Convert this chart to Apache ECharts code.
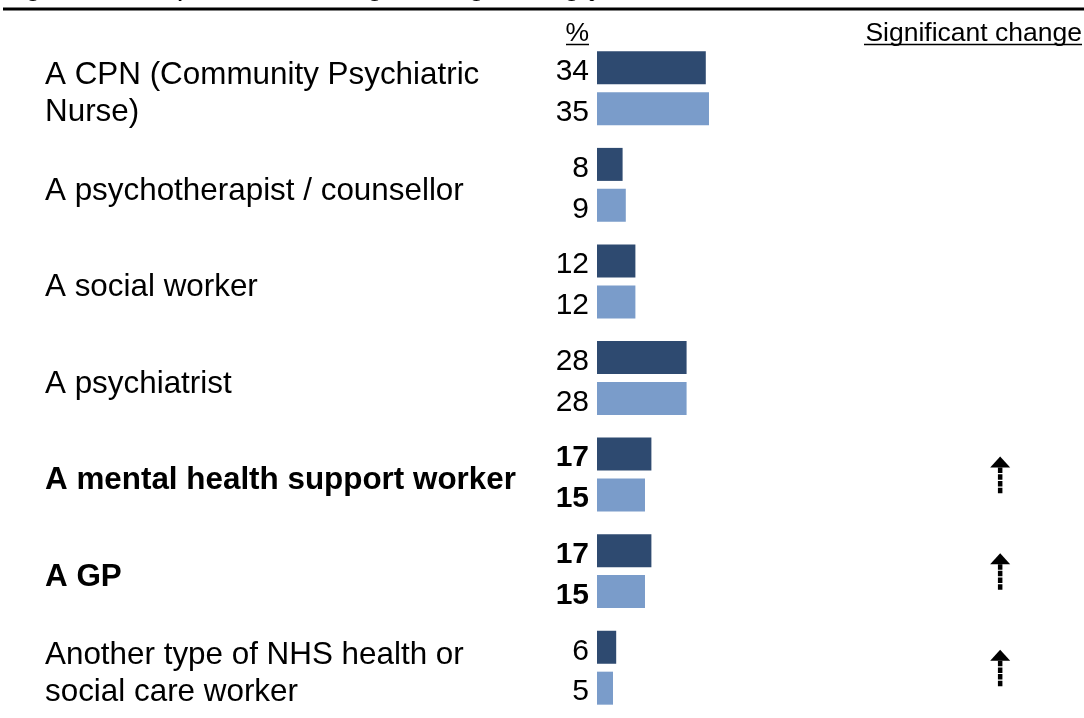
<!DOCTYPE html>
<html>
<head>
<meta charset="utf-8">
<script src="https://cdn.jsdelivr.net/npm/echarts@6.0.0/dist/echarts.min.js"></script>
<style>
  html, body { margin: 0; padding: 0; background: #fff; }
  #main { width: 1084px; height: 718px; }
</style>
</head>
<body>
<div id="main"></div>
<script>
// categories, top to bottom
var categories = [
  'A CPN (Community Psychiatric\nNurse)',
  'A psychotherapist / counsellor',
  'A social worker',
  'A psychiatrist',
  'A mental health support worker',
  'A GP',
  'Another type of NHS health or\nsocial care worker'
];
var latest = [34, 8, 12, 28, 17, 17, 6];
var previous = [35, 9, 12, 28, 15, 15, 5];
var sigChange = ['', '', '', '', 'up', 'up', 'up'];
var boldRows = [false, false, false, false, true, true, false];

var FONT = 'Liberation Sans, Arial, sans-serif';
var ARROW_AT = 126; // x position of the arrows, in axis units

var chart = echarts.init(document.getElementById('main'), null, { renderer: 'canvas' });

function barData(arr) {
  return arr.map(function (v, i) {
    return boldRows[i] ? { value: v, label: { fontWeight: 'bold' } } : v;
  });
}

var valueLabel = {
  show: true, position: 'left', distance: 8, offset: [0, 4],
  fontFamily: FONT, fontSize: 30, color: '#000'
};

var option = {
  animation: false,
  backgroundColor: '#fff',
  grid: { left: 597, top: 40, width: 487, height: 676 },
  xAxis: {
    type: 'value', min: 0, max: 152.2,
    show: false
  },
  yAxis: {
    type: 'category',
    inverse: true,
    data: categories,
    axisLine: { show: false },
    axisTick: { show: false },
    splitLine: { show: false },
    axisLabel: {
      margin: 552,
      align: 'left',
      formatter: function (value, idx) {
        var tag = boldRows[idx] ? 'b' : 'n';
        // small spacer line on top nudges the text down a little
        return '{s| }\n' + value.split('\n').map(function (l) { return '{' + tag + '|' + l + '}'; }).join('\n');
      },
      rich: {
        s: { fontSize: 1, lineHeight: 12 },
        n: { fontFamily: FONT, fontSize: 31.4, color: '#000', lineHeight: 37 },
        b: { fontFamily: FONT, fontSize: 31.4, color: '#000', fontWeight: 'bold', lineHeight: 37 }
      }
    }
  },
  series: [
    {
      name: 'Latest',
      type: 'bar',
      data: barData(latest),
      barWidth: 33,
      barGap: '24%',
      itemStyle: { color: '#2E4A70' },
      label: valueLabel
    },
    {
      name: 'Previous',
      type: 'bar',
      data: barData(previous),
      barWidth: 33,
      itemStyle: { color: '#7A9CCA' },
      label: valueLabel
    },
    {
      name: 'Significant change',
      type: 'custom',
      data: sigChange.map(function (s, i) { return [ARROW_AT, i, s === 'up' ? 1 : 0]; }),
      encode: { x: 0, y: 1 },
      renderItem: function (params, api) {
        if (!api.value(2)) return;
        var p = api.coord([api.value(0), api.value(1)]);
        var x = p[0], top = p[1] - 18;
        return {
          type: 'group',
          children: [
            {
              type: 'polygon',
              shape: { points: [[x, top], [x - 10, top + 11], [x + 10, top + 11]] },
              style: { fill: '#000' }
            },
            {
              type: 'line',
              shape: { x1: x, y1: top + 11, x2: x, y2: top + 37 },
              style: { stroke: '#000', lineWidth: 4.5, lineDash: [5.5, 1.2] }
            }
          ]
        };
      }
    }
  ],
  graphic: [
    {
      type: 'text', left: 0, top: -28.5,
      style: {
        text: 'Figure 5: the person in charge of organising your care and services',
        fontFamily: FONT, fontSize: 30, fill: '#000'
      }
    },
    {
      type: 'line',
      shape: { x1: 3, y1: 9, x2: 1084, y2: 9 },
      style: { stroke: '#000', lineWidth: 3 }
    },
    {
      type: 'text', x: 589, y: 34,
      style: {
        text: '%', fontFamily: FONT, fontSize: 26.5, fill: '#000',
        align: 'right', verticalAlign: 'middle'
      }
    },
    {
      type: 'line',
      shape: { x1: 566, y1: 44.5, x2: 589, y2: 44.5 },
      style: { stroke: '#000', lineWidth: 1.5 }
    },
    {
      type: 'text', x: 1082, y: 34,
      style: {
        text: 'Significant change', fontFamily: FONT, fontSize: 26.5, fill: '#000',
        align: 'right', verticalAlign: 'middle'
      }
    },
    {
      type: 'line',
      shape: { x1: 864, y1: 44.5, x2: 1082, y2: 44.5 },
      style: { stroke: '#000', lineWidth: 1.5 }
    }
  ]
};

chart.setOption(option);
</script>
</body>
</html>
